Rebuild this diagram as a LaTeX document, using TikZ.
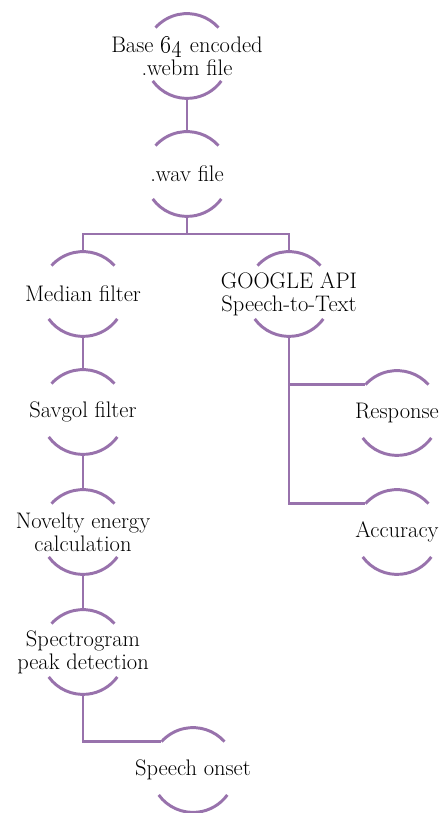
\documentclass[tikz,border=0pt]{standalone}
\usepackage{tikz}

\definecolor{flowpurple}{RGB}{152,114,172}
\newcommand{\rad}{1.06}

\tikzset{
  stage/.style={align=center, font=\fontsize{16}{16.4}\selectfont, inner sep=0pt},
  link/.style={draw=flowpurple, line width=2.1pt},
}

\begin{document}
\begin{tikzpicture}
      \useasboundingbox (0,0) rectangle (11.025,-20.325);

      \node[stage] (base) at (4.675,-1.4) {Base \oldstylenums{64} encoded\\.webm file};
      \node[stage] (wav) at (4.675,-4.35) {.wav file};

      \node[stage] (median) at (2.075,-7.35) {Median filter};
      \node[stage] (savgol) at (2.075,-10.3) {Savgol filter};
      \node[stage] (novelty) at (2.075,-13.3) {Novelty energy\\calculation};
      \node[stage] (spectro) at (2.075,-16.3) {Spectrogram\\peak detection};
      \node[stage] (onset) at (4.825,-19.25) {Speech onset};

      \node[stage] (google) at (7.225,-7.35) {GOOGLE API\\Speech-to-Text};
      \node[stage] (response) at (9.925,-10.325) {Response};
      \node[stage] (accuracy) at (9.925,-13.3) {Accuracy};

      \coordinate (split) at (4.675,-5.85);

      % arcs above and below each stage
      \foreach \n in {base,wav,median,savgol,novelty,spectro,onset,google,response,accuracy} {
        \draw[link] ([shift={(42:\rad)}]\n.center) arc (42:138:\rad);
        \draw[link] ([shift={(216:\rad)}]\n.center) arc (216:324:\rad);
      }

      \draw[link] ([yshift=-\rad cm]base.center) -- ([yshift=\rad cm]wav.center);
      \draw[link] ([yshift=-\rad cm]wav.center) -- (split);
      \draw[link] ([yshift=\rad cm]median.center) |- (split) -| ([yshift=\rad cm]google.center);

      \draw[link] ([yshift=-\rad cm]median.center) -- ([yshift=\rad cm]savgol.center);
      \draw[link] ([yshift=-\rad cm]savgol.center) -- ([yshift=\rad cm]novelty.center);
      \draw[link] ([yshift=-\rad cm]novelty.center) -- ([yshift=\rad cm]spectro.center);
      \draw[link] ([yshift=-\rad cm]spectro.center) |- ([shift={(138:\rad)}]onset.center);

      \draw[link] ([yshift=-\rad cm]google.center) |- ([shift={(138:\rad)}]response.center);
      \draw[link] ([yshift=-\rad cm]google.center) |- ([shift={(138:\rad)}]accuracy.center);

    \end{tikzpicture}
\end{document}
